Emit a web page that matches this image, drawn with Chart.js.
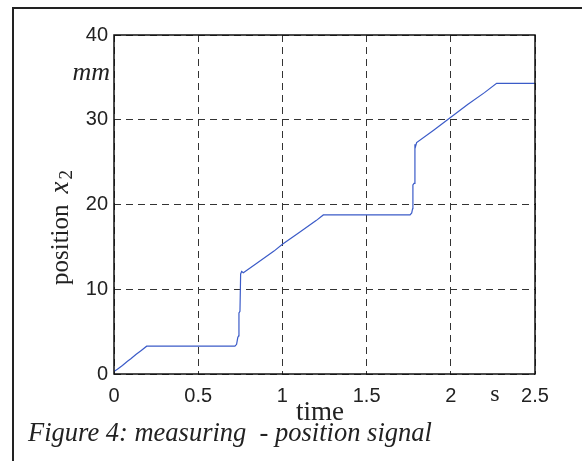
<!DOCTYPE html>
<html>
<head>
<meta charset="utf-8">
<script src="https://cdn.jsdelivr.net/npm/chart.js@4.4.1/dist/chart.umd.min.js"></script>
<style>
  html, body { margin: 0; padding: 0; background: #fff; }
  #wrap { width: 582px; height: 461px; }
</style>
</head>
<body>
<div id="wrap"><canvas id="myChart" width="582" height="461"></canvas></div>
<script>
const timeValues = [0, 0.02, 0.05, 0.08, 0.1, 0.13, 0.16, 0.194,
  0.718, 0.728, 0.735, 0.74, 0.742, 0.748, 0.752, 0.758, 0.768,
  0.85, 0.95, 1.0, 1.1, 1.2, 1.243,
  1.758, 1.768, 1.773, 1.775, 1.782, 1.787, 1.79, 1.797,
  1.9, 2.0, 2.1, 2.2, 2.272, 2.5];
const positionValues = [0.3, 0.55, 1.0, 1.5, 1.8, 2.3, 2.75, 3.28,
  3.28, 3.5, 4.3, 4.5, 7.2, 7.4, 11.8, 12.1, 11.95,
  13.1, 14.5, 15.3, 16.7, 18.1, 18.77,
  18.77, 19.0, 19.5, 22.3, 22.5, 27.1, 26.8, 27.3,
  28.8, 30.3, 31.8, 33.2, 34.3, 34.3];
const xTicks = [0, 0.5, 1, 1.5, 2, 2.5];
const yTicks = [0, 10, 20, 30, 40];

const points = timeValues.map((t, i) => ({ x: t, y: positionValues[i] }));

const SERIF = '"Times New Roman", "Liberation Serif", Times, serif';
const SANS = 'Arial, "Liberation Sans", Helvetica, sans-serif';

// extra texts, frame and plot box
const decorations = {
  id: 'decorations',
  afterDraw(chart) {
    const ctx = chart.ctx;
    const a = chart.chartArea;
    ctx.save();
    // plot box
    ctx.strokeStyle = '#111';
    ctx.lineWidth = 1.5;
    ctx.strokeRect(a.left, a.top, a.right - a.left, a.bottom - a.top);
    // figure frame
    ctx.lineWidth = 2;
    ctx.strokeStyle = '#222';
    ctx.strokeRect(13, 8, 620, 520);

    ctx.fillStyle = '#222';
    // units
    ctx.font = 'italic 26px ' + SERIF;
    ctx.textAlign = 'right';
    ctx.textBaseline = 'alphabetic';
    ctx.fillText('mm', 110, 80);
    ctx.font = '24px ' + SERIF;
    ctx.textAlign = 'center';
    ctx.fillText('s', 495, 401);
    // x title
    ctx.font = '27px ' + SERIF;
    ctx.fillText('time', 320, 420);
    // caption
    ctx.font = 'italic 26.5px ' + SERIF;
    ctx.textAlign = 'left';
    ctx.fillText('Figure 4: measuring  - position signal', 28, 441);
    // y title, rotated
    ctx.translate(68, 285);
    ctx.rotate(-Math.PI / 2);
    ctx.font = '25px ' + SERIF;
    ctx.fillText('position', 0, 0);
    let w = ctx.measureText('position').width + 11;
    ctx.font = 'italic 27px ' + SERIF;
    ctx.fillText('x', w, 0);
    w += ctx.measureText('x').width + 2;
    ctx.font = '19px ' + SERIF;
    ctx.fillText('2', w, 4);
    ctx.restore();
  }
};

new Chart(document.getElementById('myChart'), {
  type: 'scatter',
  data: {
    datasets: [{
      data: points,
      showLine: true,
      borderColor: '#3b5bc8',
      borderWidth: 1.2,
      pointRadius: 0,
      tension: 0
    }]
  },
  options: {
    responsive: false,
    animation: false,
    layout: { padding: { left: 0, top: 35, right: 47, bottom: 0 } },
    plugins: { legend: { display: false }, tooltip: { enabled: false } },
    scales: {
      x: {
        type: 'linear',
        min: 0, max: 2.5,
        afterFit: (s) => { s.height = 87; },
        afterBuildTicks: (s) => { s.ticks = xTicks.map(v => ({ value: v })); },
        grid: { color: '#333', lineWidth: 1, drawTicks: false },
        border: { display: false, dash: [7, 5] },
        ticks: {
          padding: 10,
          color: '#222',
          font: { family: SANS, size: 20 },
          callback: (v) => String(v)
        }
      },
      y: {
        min: 0, max: 40,
        afterFit: (s) => { s.width = 114; },
        afterBuildTicks: (s) => { s.ticks = yTicks.map(v => ({ value: v })); },
        grid: { color: '#333', lineWidth: 1, drawTicks: false },
        border: { display: false, dash: [7, 5] },
        ticks: {
          padding: 6,
          color: '#222',
          font: { family: SANS, size: 20 },
          callback: (v) => String(v)
        }
      }
    }
  },
  plugins: [decorations]
});
</script>
</body>
</html>
